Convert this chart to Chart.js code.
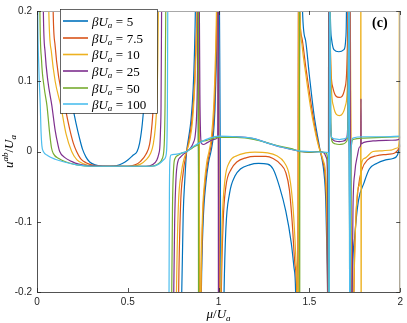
<!DOCTYPE html>
<html><head><meta charset="utf-8">
<script src="https://cdn.jsdelivr.net/npm/chart.js@4/dist/chart.umd.min.js"></script>
<style>html,body{margin:0;padding:0;background:#fff;}#wrap{width:407px;height:323px;}</style>
</head><body><div id="wrap"><canvas id="c" width="407" height="323"></canvas></div>
<script>
// ---- data (mu/U_a , u^ab/U_a) ; null = gap ----
const seriesValues = ['5', '7.5', '10', '25', '50', '100'];
const xTickValues = [0, 0.5, 1, 1.5, 2];
const xTickLabels = ['0', '0.5', '1', '1.5', '2'];
const yTickValues = [-0.2, -0.1, 0, 0.1, 0.2];
const yTickLabels = ['-0.2', '-0.1', '0', '0.1', '0.2'];

const beta5 = [[0.135,0.35],[0.142,0.2],[0.16,0.13],[0.18,0.09],[0.196,0.065],[0.215,0.04],[0.235,0.018],[0.251,0.003],[0.27,-0.008],[0.29,-0.015],[0.32,-0.019],[0.36,-0.021],[0.40,-0.021],[0.44,-0.02],[0.47,-0.017],[0.50,-0.012],[0.53,-0.005],[0.551,0.0],[0.565,0.012],[0.578,0.035],[0.589,0.065],[0.605,0.115],[0.618,0.16],[0.63,0.2],[0.64,0.3],
[0.7,null],
[0.79,-0.35],[0.797,-0.2],[0.805,-0.09],[0.814,-0.04],[0.824,0.0],[0.835,0.02],[0.848,0.045],[0.86,0.09],[0.868,0.15],[0.872,0.2],[0.878,0.35],
[0.9,-0.35],[0.905,-0.2],[0.915,-0.1],[0.93,-0.045],[0.945,-0.015],[0.958,0.0],[0.97,0.02],[0.98,0.06],[0.988,0.13],[0.993,0.2],[0.998,0.4],
[1.02,-0.4],[1.03,-0.2],[1.04,-0.11],[1.06,-0.06],[1.09,-0.035],[1.12,-0.025],[1.17,-0.019],[1.22,-0.017],[1.27,-0.018],[1.3,-0.025],[1.335,-0.05],[1.37,-0.085],[1.40,-0.13],[1.415,-0.165],[1.424,-0.2],[1.43,-0.35],
[1.455,0.35],[1.462,0.2],[1.479,0.158],[1.499,0.11],[1.526,0.051],[1.553,0.01],[1.56,0.0],[1.57,-0.012],[1.58,-0.03],[1.59,-0.07],[1.597,-0.15],[1.6,-0.2],[1.603,-0.35],
[1.612,0.35],[1.615,0.2],[1.622,0.16],[1.635,0.145],[1.662,0.142],[1.69,0.145],[1.7,0.16],[1.704,0.2],[1.707,0.35],
[1.73,-0.35],[1.735,-0.2],[1.75,-0.12],[1.77,-0.07],[1.80,-0.045],[1.83,-0.025],[1.87,-0.017],[1.92,-0.012],[1.96,-0.01],[1.985,-0.005],[1.995,0.005],[2.0,0.01]];

const beta7p5 = [[0.082,0.35],[0.089,0.2],[0.1,0.15],[0.12,0.105],[0.153,0.065],[0.18,0.032],[0.2,0.012],[0.218,0.0],[0.24,-0.01],[0.27,-0.016],[0.3,-0.019],[0.35,-0.021],[0.5,-0.021],[0.54,-0.019],[0.57,-0.014],[0.6,-0.004],[0.62,0.01],[0.632,0.035],[0.64,0.065],[0.646,0.12],[0.65,0.2],[0.655,0.35],
[0.7,null],
[0.775,-0.35],[0.78,-0.2],[0.79,-0.08],[0.805,-0.03],[0.824,0.0],[0.84,0.02],[0.855,0.05],[0.868,0.1],[0.876,0.16],[0.881,0.2],[0.886,0.35],
[0.9,-0.35],[0.904,-0.2],[0.912,-0.1],[0.925,-0.045],[0.94,-0.015],[0.952,0.0],[0.965,0.02],[0.976,0.06],[0.985,0.13],[0.99,0.2],[0.995,0.35],
[1.008,-0.35],[1.015,-0.2],[1.025,-0.1],[1.04,-0.05],[1.07,-0.025],[1.1,-0.015],[1.15,-0.009],[1.2,-0.007],[1.26,-0.007],[1.3,-0.01],[1.34,-0.018],[1.37,-0.03],[1.39,-0.055],[1.405,-0.1],[1.42,-0.16],[1.43,-0.2],[1.435,-0.35],
[1.44,0.35],[1.446,0.2],[1.46,0.16],[1.48,0.12],[1.505,0.075],[1.53,0.035],[1.55,0.01],[1.56,0.0],[1.575,-0.015],[1.588,-0.04],[1.596,-0.1],[1.6,-0.2],[1.603,-0.35],
[1.608,0.35],[1.612,0.2],[1.618,0.12],[1.63,0.09],[1.664,0.077],[1.695,0.09],[1.706,0.12],[1.712,0.2],[1.716,0.35],
[1.74,-0.35],[1.745,-0.2],[1.755,-0.1],[1.77,-0.05],[1.79,-0.025],[1.82,-0.012],[1.87,-0.006],[1.93,-0.004],[1.97,-0.002],[1.99,0.003],[2.0,0.008]];

const beta10 = [[0.058,0.35],[0.065,0.2],[0.08,0.14],[0.1,0.1],[0.131,0.065],[0.16,0.025],[0.191,0.0],[0.22,-0.012],[0.26,-0.018],[0.3,-0.021],[0.52,-0.021],[0.57,-0.018],[0.6,-0.012],[0.625,-0.003],[0.64,0.01],[0.652,0.035],[0.66,0.07],[0.665,0.13],[0.668,0.2],[0.672,0.35],
[0.7,null],
[0.762,-0.35],[0.768,-0.2],[0.778,-0.08],[0.795,-0.03],[0.81,-0.01],[0.824,0.0],[0.84,0.015],[0.855,0.04],[0.868,0.09],[0.877,0.15],[0.882,0.2],[0.887,0.35],
[0.9,-0.35],[0.903,-0.2],[0.91,-0.1],[0.922,-0.045],[0.935,-0.015],[0.947,0.0],[0.96,0.02],[0.972,0.06],[0.982,0.13],[0.988,0.2],[0.993,0.35],
[1.005,-0.35],[1.012,-0.2],[1.02,-0.1],[1.035,-0.04],[1.06,-0.015],[1.1,-0.006],[1.15,-0.002],[1.2,-0.001],[1.27,-0.002],[1.32,-0.006],[1.36,-0.015],[1.39,-0.035],[1.41,-0.08],[1.425,-0.15],[1.432,-0.2],[1.437,-0.35],
[1.442,0.35],[1.448,0.2],[1.46,0.15],[1.48,0.11],[1.505,0.065],[1.53,0.03],[1.55,0.008],[1.56,0.0],[1.575,-0.012],[1.59,-0.035],[1.598,-0.1],[1.602,-0.2],[1.605,-0.35],
[1.608,0.35],[1.613,0.2],[1.62,0.1],[1.632,0.065],[1.665,0.051],[1.698,0.065],[1.71,0.1],[1.716,0.2],[1.72,0.35],
[1.738,-0.35],[1.745,-0.2],[1.755,-0.1],[1.77,-0.05],[1.782,-0.03],[1.7835,0.5],[1.7845,-0.5],[1.786,-0.02],[1.8,-0.01],[1.85,0.0],[1.9,0.001],[1.95,0.002],[1.985,0.005],[1.994,0.015],[1.996,0.5],[1.9975,-0.5],[2.0,-0.5]];

const beta25 = [[0.03,0.35],[0.035,0.2],[0.045,0.14],[0.06,0.1],[0.082,0.065],[0.1,0.03],[0.115,0.01],[0.125,0.0],[0.15,-0.008],[0.19,-0.014],[0.23,-0.018],[0.28,-0.02],[0.6,-0.021],[0.64,-0.018],[0.66,-0.012],[0.67,-0.004],[0.676,0.005],[0.68,0.03],[0.683,0.065],[0.686,0.2],[0.689,0.35],
[0.72,null],
[0.748,-0.35],[0.753,-0.2],[0.758,-0.1],[0.765,-0.04],[0.775,-0.015],[0.79,-0.008],[0.81,-0.003],[0.824,0.0],[0.845,0.005],[0.86,0.012],[0.872,0.025],[0.88,0.06],[0.884,0.12],[0.886,0.2],[0.888,0.35],[0.892,0.35],[0.894,0.2],[0.897,0.08],[0.9,0.03],[0.905,0.012],[0.915,0.01],[0.94,0.013],[0.97,0.017],[0.995,0.02],[0.998,0.4],[0.999,-0.4],[1.0,0.02],[1.05,0.021],[1.1,0.021],[1.2,0.018],[1.27,0.012],[1.35,0.006],[1.42,0.002],[1.45,0.0],[1.5,-0.001],[1.56,0.0],[1.58,-0.002],[1.595,-0.01],[1.6,-0.05],[1.603,-0.4],
[1.607,0.4],[1.612,0.2],[1.616,0.05],[1.622,0.02],[1.64,0.015],[1.665,0.014],[1.69,0.015],[1.706,0.02],[1.712,0.05],[1.716,0.2],[1.72,0.4],
[1.73,-0.4],[1.735,-0.2],[1.74,-0.08],[1.75,-0.03],[1.765,-0.005],[1.775,0.006],[1.783,0.01],[1.784,0.075],[1.785,0.011],[1.8,0.013],[1.85,0.015],[1.95,0.016],[1.99,0.017],[2.0,0.02]];

const beta50 = [[0.012,0.35],[0.016,0.2],[0.025,0.13],[0.04,0.09],[0.055,0.065],[0.07,0.025],[0.08,0.005],[0.09,-0.003],[0.12,-0.01],[0.16,-0.015],[0.22,-0.019],[0.3,-0.021],[0.62,-0.021],[0.67,-0.017],[0.69,-0.01],[0.698,0.0],[0.702,0.02],[0.705,0.065],[0.709,0.2],[0.712,0.35],
[0.72,null],
[0.738,-0.35],[0.742,-0.2],[0.746,-0.08],[0.752,-0.025],[0.76,-0.01],[0.78,-0.005],[0.8,-0.002],[0.824,0.0],[0.85,0.004],[0.875,0.008],[0.888,0.011],[0.8885,0.5],[0.8895,-0.5],[0.89,0.012],[0.92,0.015],[0.96,0.018],[1.0,0.02],[1.1,0.02],[1.2,0.017],[1.3,0.01],[1.4,0.004],[1.445,0.001],[1.4455,0.5],[1.4465,-0.5],[1.447,0.0],[1.5,-0.001],[1.56,0.0],[1.59,-0.002],[1.603,-0.02],[1.607,-0.4],
[1.61,0.4],[1.614,0.2],[1.618,0.04],[1.624,0.015],[1.64,0.011],[1.665,0.01],[1.69,0.011],[1.706,0.015],[1.712,0.04],[1.716,0.2],[1.719,0.4],
[1.722,-0.4],[1.725,-0.2],[1.728,-0.03],[1.732,0.01],[1.74,0.017],[1.8,0.019],[1.9,0.02],[2.0,0.021]];

const beta100 = [[0.001,0.35],[0.004,0.2],[0.01,0.12],[0.018,0.065],[0.022,0.03],[0.027,0.008],[0.035,0.0],[0.06,-0.006],[0.1,-0.011],[0.15,-0.015],[0.22,-0.019],[0.3,-0.021],[0.63,-0.021],[0.67,-0.018],[0.7,-0.011],[0.712,-0.003],[0.716,0.02],[0.718,0.065],[0.72,0.2],[0.722,0.35],
[0.723,null],
[0.724,-0.35],[0.727,-0.2],[0.729,-0.06],[0.732,-0.012],[0.738,-0.005],[0.76,-0.004],[0.8,-0.002],[0.824,0.0],[0.86,0.007],[0.9,0.013],[0.95,0.019],[1.0,0.022],[1.1,0.021],[1.2,0.018],[1.27,0.012],[1.35,0.006],[1.44,0.001],[1.5,0.0],[1.58,-0.001],[1.605,-0.002],[1.609,-0.4],[1.611,0.4],[1.614,0.2],[1.617,0.04],[1.622,0.02],[1.64,0.018],[1.665,0.017],[1.69,0.018],[1.708,0.02],[1.713,0.04],[1.716,0.2],[1.719,0.4],[1.722,-0.4],[1.725,-0.2],[1.728,-0.03],[1.732,0.012],[1.74,0.019],[1.8,0.021],[1.9,0.021],[2.0,0.022]];

const allSeries = [beta5, beta7p5, beta10, beta25, beta50, beta100];
const colors = ['#0072BD', '#D95319', '#EDB120', '#7E2F8E', '#77AC30', '#4DBEEE'];

const SERIF = '"Liberation Serif", "DejaVu Serif", serif';

function drawRuns(ctx, x, y, runs) {
  let cx = x;
  for (const r of runs) {
    ctx.font = r.font;
    ctx.fillText(r.t, cx, y + (r.dy || 0));
    cx += ctx.measureText(r.t).width + (r.sp || 0);
  }
  return cx;
}
function runsWidth(ctx, runs) {
  let w = 0;
  for (const r of runs) { ctx.font = r.font; w += ctx.measureText(r.t).width + (r.sp || 0); }
  return w;
}

const framePlugin = {
  id: 'frame',
  afterDatasetsDraw(chart) {
    const ctx = chart.ctx, a = chart.chartArea;
    const xs = chart.scales.x, ys = chart.scales.y;
    ctx.save();
    ctx.strokeStyle = '#262626';
    ctx.lineWidth = 0.8;
    ctx.beginPath();
    ctx.moveTo(a.left + 0.5, a.top); ctx.lineTo(a.left + 0.5, a.bottom + 0.5); ctx.lineTo(a.right, a.bottom + 0.5);
    ctx.stroke();
    ctx.strokeStyle = '#a8a8a8';
    ctx.lineWidth = 1.2;
    ctx.beginPath();
    ctx.moveTo(a.left, a.top + 0.5); ctx.lineTo(a.right - 0.5, a.top + 0.5); ctx.lineTo(a.right - 0.5, a.bottom);
    ctx.stroke();
    ctx.strokeStyle = '#262626';
    ctx.lineWidth = 0.8;
    ctx.beginPath();
    for (const v of xTickValues) {
      const px = Math.round(xs.getPixelForValue(v)) + 0.5;
      ctx.moveTo(px, a.bottom); ctx.lineTo(px, a.bottom - 4);
      ctx.moveTo(px, a.top); ctx.lineTo(px, a.top + 4);
    }
    for (const v of yTickValues) {
      const py = Math.round(ys.getPixelForValue(v)) + 0.5;
      ctx.moveTo(a.left, py); ctx.lineTo(a.left + 4, py);
      ctx.moveTo(a.right, py); ctx.lineTo(a.right - 4, py);
    }
    ctx.stroke();

    const lx = 60, ly = 9, lw = 97, lh = 104;
    ctx.fillStyle = '#ffffff';
    ctx.fillRect(lx, ly, lw, lh);
    ctx.strokeStyle = '#262626';
    ctx.lineWidth = 0.7;
    ctx.strokeRect(lx + 0.5, ly + 0.5, lw, lh);
    const rowY = [21, 38, 54.5, 71, 88, 104];
    ctx.textBaseline = 'alphabetic';
    ctx.textAlign = 'left';
    seriesValues.forEach((val, i) => {
      const y = rowY[i];
      ctx.strokeStyle = colors[i];
      ctx.lineWidth = 1.6;
      ctx.beginPath(); ctx.moveTo(63, y); ctx.lineTo(88, y); ctx.stroke();
      ctx.fillStyle = '#000';
      drawRuns(ctx, 92, y + 4.5, [
        {t: 'β', font: 'italic 13px ' + SERIF},
        {t: 'U', font: 'italic 13px ' + SERIF},
        {t: 'a', font: 'italic 9px ' + SERIF, dy: 2.5, sp: 3.5},
        {t: '=', font: '13px ' + SERIF, sp: 3.5},
        {t: val, font: '13px ' + SERIF}
      ]);
    });

    ctx.fillStyle = '#000';
    ctx.font = 'bold 14px ' + SERIF;
    ctx.fillText('(c)', 372, 27);

    const xr = [
      {t: 'μ', font: 'italic 13px ' + SERIF},
      {t: '/', font: '13px ' + SERIF},
      {t: 'U', font: 'italic 13px ' + SERIF},
      {t: 'a', font: 'italic 9px ' + SERIF, dy: 2.5}
    ];
    const xw = runsWidth(ctx, xr);
    drawRuns(ctx, (a.left + a.right) / 2 - xw / 2, 318, xr);

    const yr = [
      {t: 'u', font: 'italic 13px ' + SERIF},
      {t: 'ab', font: 'italic 9px ' + SERIF, dy: -5},
      {t: '/', font: '13px ' + SERIF},
      {t: 'U', font: 'italic 13px ' + SERIF},
      {t: 'a', font: 'italic 9px ' + SERIF, dy: 2.5}
    ];
    const yw = runsWidth(ctx, yr);
    ctx.translate(13, (a.top + a.bottom) / 2);
    ctx.rotate(-Math.PI / 2);
    drawRuns(ctx, -yw / 2, 0, yr);
    ctx.restore();
  }
};

new Chart(document.getElementById('c').getContext('2d'), {
  type: 'line',
  data: {
    datasets: allSeries.map((s, i) => ({
      label: 'βU_a = ' + seriesValues[i],
      data: s.map(p => ({x: p[0], y: p[1]})),
      borderColor: colors[i],
      backgroundColor: colors[i],
      borderWidth: 1.2,
      pointRadius: 0,
      pointHoverRadius: 0,
      fill: false,
      cubicInterpolationMode: 'monotone',
      spanGaps: false,
      order: 6 - i
    }))
  },
  options: {
    responsive: false,
    animation: false,
    devicePixelRatio: 1,
    layout: {padding: {left: 0, right: 3, top: 3, bottom: 0}},
    plugins: {legend: {display: false}, tooltip: {enabled: false}},
    scales: {
      x: {
        type: 'linear', min: 0, max: 2,
        afterBuildTicks: s => { s.ticks = xTickValues.map(v => ({value: v})); },
        ticks: {
          callback: v => xTickLabels[xTickValues.indexOf(v)],
          font: {family: '"Liberation Sans", Arial, sans-serif', size: 10},
          color: '#262626', padding: 4, maxRotation: 0, autoSkip: false
        },
        grid: {display: false, drawTicks: false},
        border: {display: false},
        afterFit: s => { s.height = 31; }
      },
      y: {
        type: 'linear', min: -0.2, max: 0.2,
        afterBuildTicks: s => { s.ticks = yTickValues.map(v => ({value: v})); },
        ticks: {
          callback: v => yTickLabels[yTickValues.findIndex(t => Math.abs(t - v) < 1e-9)],
          font: {family: '"Liberation Sans", Arial, sans-serif', size: 10},
          color: '#262626', padding: 5, autoSkip: false
        },
        grid: {display: false, drawTicks: false},
        border: {display: false},
        afterFit: s => { s.width = 37; }
      }
    }
  },
  plugins: [framePlugin]
});
</script>
</body></html>
